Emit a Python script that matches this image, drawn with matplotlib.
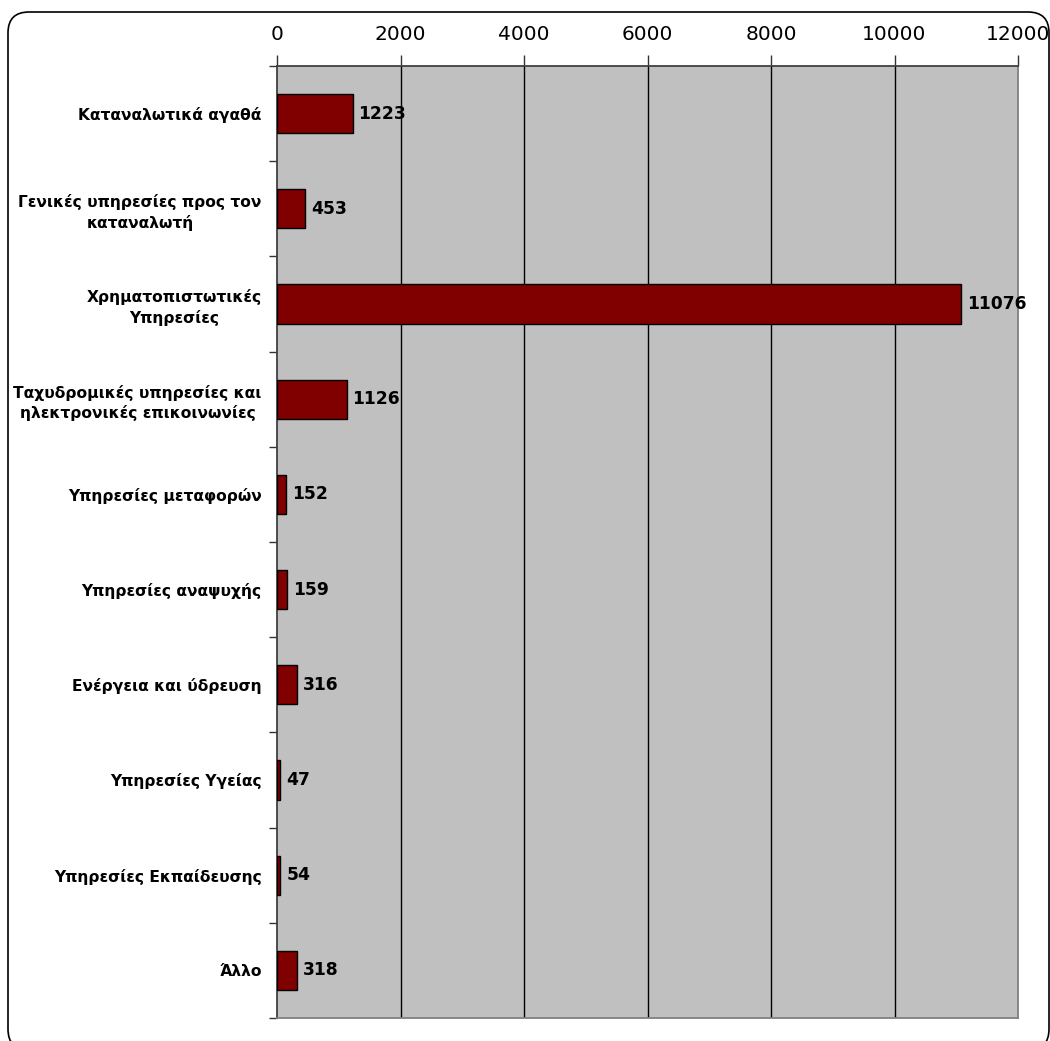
import matplotlib
matplotlib.use("Agg")
import matplotlib.pyplot as plt
from matplotlib.patches import FancyBboxPatch
from matplotlib.ticker import FixedLocator

categories = [
    "Καταναλωτικά αγαθά",
    "Γενικές υπηρεσίες προς τον\nκαταναλωτή",
    "Χρηματοπιστωτικές\nΥπηρεσίες",
    "Ταχυδρομικές υπηρεσίες και\nηλεκτρονικές επικοινωνίες",
    "Υπηρεσίες μεταφορών",
    "Υπηρεσίες αναψυχής",
    "Ενέργεια και ύδρευση",
    "Υπηρεσίες Υγείας",
    "Υπηρεσίες Εκπαίδευσης",
    "Άλλο",
]
values = [1223, 453, 11076, 1126, 152, 159, 316, 47, 54, 318]
xticks = [0, 2000, 4000, 6000, 8000, 10000, 12000]

W, H = 1050, 1041
fig = plt.figure(figsize=(W / 100, H / 100), dpi=100)
fig.patch.set_facecolor("white")

# rounded outer frame
frame = FancyBboxPatch((8 / W, (H - 1050) / H), 1041 / W, 1038 / H,
                       boxstyle="round,pad=0,rounding_size=0.02",
                       transform=fig.transFigure, facecolor="none",
                       edgecolor="black", linewidth=1.2, clip_on=False)
fig.patches.append(frame)

left, right, top, bottom = 277, 1018, 66, 1018
ax = fig.add_axes([left / W, (H - bottom) / H, (right - left) / W, (bottom - top) / H])
ax.set_facecolor("#C0C0C0")

n = len(categories)
ypos = list(range(n))
ax.barh(ypos, values, height=0.41, color="#800000", edgecolor="black", linewidth=1, zorder=3)

ax.set_xlim(0, 12000)
ax.set_ylim(n - 0.5, -0.5)

ax.xaxis.tick_top()
ax.set_xticks(xticks)
ax.set_xticklabels([str(t) for t in xticks], fontsize=14.5, family="DejaVu Sans")
ax.tick_params(axis="x", direction="out", length=8, width=1, pad=8, color="#333333")

ax.set_yticks(ypos)
ax.set_yticklabels(categories, fontsize=11.2, fontweight="bold", family="DejaVu Sans",
                   multialignment="center", linespacing=1.35)
ax.tick_params(axis="y", which="major", length=0, pad=11)
ax.yaxis.set_minor_locator(FixedLocator([i - 0.5 for i in range(n + 1)]))
ax.tick_params(axis="y", which="minor", direction="out", length=6, width=1, color="#333333")

for x in xticks[1:-1]:
    ax.axvline(x, color="black", linewidth=1, zorder=2)

for side in ("top", "left"):
    ax.spines[side].set_color("#404040")
    ax.spines[side].set_linewidth(1.3)
for side in ("bottom", "right"):
    ax.spines[side].set_color("#808080")
    ax.spines[side].set_linewidth(1.3)

for y, v in zip(ypos, values):
    ax.annotate(str(v), (v, y), xytext=(4.3, 0), textcoords="offset points",
                va="center", ha="left", fontsize=12.3, fontweight="bold",
                family="DejaVu Sans", zorder=4)

fig.savefig("out.png", dpi=100, facecolor="white")
